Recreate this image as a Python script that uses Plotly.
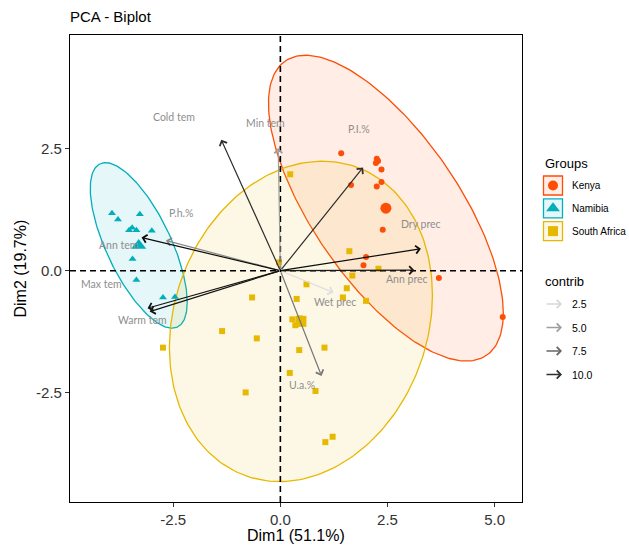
import numpy as np
import plotly.graph_objects as go

# ---------------- data ----------------
groups = ["Kenya", "Namibia", "South Africa"]
group_colors = ["#FC4E07", "#00AFBB", "#E7B800"]
group_symbols = ["circle", "triangle-up", "square"]

kenya_x = [1.42, 2.25, 2.23, 2.28, 2.36, 1.65, 2.36, 2.25, 2.39, 2.00, 1.94, 3.70, 5.19]
kenya_y = [2.41, 2.30, 2.21, 2.25, 2.08, 1.76, 1.82, 1.73, 0.84, 0.28, 0.11, -0.15, -0.95]

namibia_x = [-3.93, -3.79, -3.28, -3.53, -3.46, -3.36, -3.00, -3.45, -3.36, -2.74, -2.46]
namibia_y = [1.18, 1.05, 1.16, 0.83, 0.88, 0.83, 0.82, 0.24, -0.19, -0.55, -0.54]

safrica_x = [0.23, -0.03, 1.61, 2.29, 1.68, 0.61, 1.55, 1.46, 2.00, 0.38, -0.66, 0.28,
             0.35, 0.45, -1.36, -0.55, 0.44, 1.03, -2.74, 0.22, -0.81, 0.82, 1.05, 1.22]
safrica_y = [1.98, 0.17, 0.40, 0.04, -0.10, -0.28, -0.36, -0.55, -0.62, -0.58, -0.55, -1.00,
             -1.12, -0.98, -1.24, -1.39, -1.63, -1.58, -1.58, -2.10, -2.50, -2.47, -3.52, -3.41]

# ellipse shape matrices (per group): [[sxx, sxy], [sxy, syy]]
ellipse_sxx = [7.51, 1.28, 9.42]
ellipse_syy = [9.86, 2.89, 10.82]
ellipse_sxy = [-5.90, -1.32, 1.65]

var_names = ["Cold tem", "Min tem", "P.I.%", "P.h.%", "Ann tem", "Max tem",
             "Warm tem", "Dry prec", "Ann prec", "Wet prec", "U.a.%"]
var_x = [-1.38, -0.05, 1.93, -2.67, -3.24, -3.10, -3.05, 3.28, 3.13, 1.24, 0.96]
var_y = [2.69, 2.52, 2.12, 0.62, 0.68, -0.77, -0.84, 0.45, 0.01, -0.45, -2.16]
var_contrib = [10.0, 5.0, 10.0, 6.0, 11.5, 11.2, 11.2, 11.5, 11.0, 2.2, 6.8]
label_x = [-2.48, -0.35, 1.83, -2.33, -3.78, -4.18, -3.21, 3.28, 2.95, 1.27, 0.51]
label_y = [3.15, 3.04, 2.91, 1.18, 0.53, -0.27, -1.01, 0.95, -0.17, -0.65, -2.34]

contrib_legend = [2.5, 5.0, 7.5, 10.0]

title_text = "PCA - Biplot"
xlab = "Dim1 (51.1%)"
ylab = "Dim2 (19.7%)"

group_x = [kenya_x, namibia_x, safrica_x]
group_y = [kenya_y, namibia_y, safrica_y]

# ---------------- helpers ----------------
C_LO, C_HI = 2.0, 11.6


def contrib_color(c):
    t = min(max((c - C_LO) / (C_HI - C_LO), 0.0), 1.0)
    v = int(round(226 * (1 - t) + 10 * t))
    return f"rgb({v},{v},{v})"


def rgba(hexcol, a):
    h = hexcol.lstrip("#")
    r, g, b = int(h[0:2], 16), int(h[2:4], 16), int(h[4:6], 16)
    return f"rgba({r},{g},{b},{a})"


W, H = 629, 549
ML, MR, MT, MB = 70, 0, 35, 47
PANEL_R = 522
PANEL_H = H - MT - MB
plot_w = W - ML - MR
main_dom = (PANEL_R - ML) / plot_w

fig = go.Figure()

# ellipses
t = np.linspace(0, 2 * np.pi, 240)
for i, g in enumerate(groups):
    cx, cy = np.mean(group_x[i]), np.mean(group_y[i])
    M = np.array([[ellipse_sxx[i], ellipse_sxy[i]], [ellipse_sxy[i], ellipse_syy[i]]])
    L = np.linalg.cholesky(M)
    pts = L @ np.vstack([np.cos(t), np.sin(t)])
    fig.add_trace(go.Scatter(
        x=cx + pts[0], y=cy + pts[1], mode="lines", fill="toself",
        fillcolor=rgba(group_colors[i], 0.1),
        line=dict(color=group_colors[i], width=1.3),
        hoverinfo="skip", showlegend=False))

# points and centroids
for i, g in enumerate(groups):
    fig.add_trace(go.Scatter(
        x=group_x[i], y=group_y[i], mode="markers",
        marker=dict(symbol=group_symbols[i], color=group_colors[i],
                    size=7 if group_symbols[i] == "triangle-up" else 6,
                    line=dict(width=0)),
        name=g, showlegend=False))
    fig.add_trace(go.Scatter(
        x=[np.mean(group_x[i])], y=[np.mean(group_y[i])], mode="markers",
        marker=dict(symbol=group_symbols[i], color=group_colors[i],
                    size=13 if group_symbols[i] == "triangle-up" else 11,
                    line=dict(width=0)),
        showlegend=False, hoverinfo="skip"))

shapes = []
annotations = []

# reference dashed lines
shapes.append(dict(type="line", xref="x domain", yref="y", x0=0, x1=1, y0=0, y1=0,
                   line=dict(color="black", width=1.6, dash="6px,4px")))
shapes.append(dict(type="line", xref="x", yref="y domain", x0=0, x1=0, y0=0, y1=1,
                   line=dict(color="black", width=1.6, dash="6px,4px")))

# variable arrows (lighter first)
order = np.argsort(var_contrib)
for k in order:
    col = contrib_color(var_contrib[k])
    annotations.append(dict(
        x=var_x[k], y=var_y[k], ax=0, ay=0, xref="x", yref="y", axref="x", ayref="y",
        showarrow=True, arrowhead=4, arrowsize=1.3, arrowwidth=1.2, arrowcolor=col,
        text=""))
for k in range(len(var_names)):
    annotations.append(dict(
        x=label_x[k], y=label_y[k], xref="x", yref="y", text=var_names[k],
        showarrow=False, font=dict(family="Lato", size=10.5, color="#8e8e8e")))

# ---------------- legend (pixel overlay axes) ----------------
LEG_FONT = "Liberation Sans"
annotations.append(dict(x=543, y=163, xref="x2", yref="y2", text="Groups", showarrow=False,
                        xanchor="left", yanchor="middle",
                        font=dict(family=LEG_FONT, size=13, color="black")))
box_top = 176
for i, g in enumerate(groups):
    y0 = box_top + i * 22.8
    shapes.append(dict(type="rect", xref="x2", yref="y2", x0=543.5, x1=562.5, y0=y0, y1=y0 + 19,
                       line=dict(color=group_colors[i], width=1.3),
                       fillcolor=rgba(group_colors[i], 0.1)))
    fig.add_trace(go.Scatter(
        x=[553], y=[y0 + 9.5], xaxis="x2", yaxis="y2", mode="markers",
        marker=dict(symbol=group_symbols[i], color=group_colors[i],
                    size=12 if group_symbols[i] == "triangle-up" else 10, line=dict(width=0)),
        showlegend=False, hoverinfo="skip"))
    annotations.append(dict(x=570, y=y0 + 9.5, xref="x2", yref="y2", text=g, showarrow=False,
                            xanchor="left", yanchor="middle",
                            font=dict(family=LEG_FONT, size=10, color="black")))

annotations.append(dict(x=543, y=281, xref="x2", yref="y2", text="contrib", showarrow=False,
                        xanchor="left", yanchor="middle",
                        font=dict(family=LEG_FONT, size=13, color="black")))
for j, c in enumerate(contrib_legend):
    yy = 304 + j * 23.5
    annotations.append(dict(x=562, y=yy, ax=545, ay=yy, xref="x2", yref="y2",
                            axref="x2", ayref="y2", showarrow=True, arrowhead=4,
                            arrowsize=1.2, arrowwidth=1.3, arrowcolor=contrib_color(c), text=""))
    annotations.append(dict(x=570, y=yy, xref="x2", yref="y2", text=f"{c:.1f}", showarrow=False,
                            xanchor="left", yanchor="middle",
                            font=dict(family=LEG_FONT, size=10.5, color="black")))

# axis titles
annotations.append(dict(x=main_dom / 2, y=(MT + PANEL_H - 535) / PANEL_H, xref="paper", yref="paper",
                        text=xlab, showarrow=False, xanchor="center", yanchor="middle",
                        font=dict(family=LEG_FONT, size=16, color="black")))
annotations.append(dict(x=(20 - ML) / plot_w, y=0.5, xref="paper", yref="paper",
                        text=ylab, showarrow=False, textangle=-90, xanchor="center",
                        yanchor="middle", font=dict(family=LEG_FONT, size=16, color="black")))

fig.update_layout(
    width=W, height=H,
    margin=dict(l=ML, r=MR, t=MT, b=MB, pad=0),
    paper_bgcolor="white", plot_bgcolor="rgba(0,0,0,0)",
    showlegend=False,
    title=dict(text=title_text, x=ML / W, xref="container", xanchor="left",
               y=1 - 17 / H, yref="container", yanchor="middle",
               font=dict(family=LEG_FONT, size=15, color="black")),
    xaxis=dict(domain=[0, main_dom], range=[-4.91, 5.64], tickvals=[-2.5, 0, 2.5, 5.0],
               ticktext=["-2.5", "0.0", "2.5", "5.0"], showgrid=False, zeroline=False,
               showline=True, mirror=True, linecolor="black", linewidth=1.1,
               ticks="outside", ticklen=4, tickcolor="#333333",
               tickfont=dict(family=LEG_FONT, size=15, color="#333333"), automargin=False),
    yaxis=dict(domain=[0, 1], range=[-4.75, 4.84], tickvals=[-2.5, 0, 2.5],
               ticktext=["-2.5", "0.0", "2.5"], showgrid=False, zeroline=False,
               showline=True, mirror=True, linecolor="black", linewidth=1.1,
               ticks="outside", ticklen=4, tickcolor="#333333",
               tickfont=dict(family=LEG_FONT, size=15, color="#333333"), automargin=False),
    xaxis2=dict(domain=[0, 1], range=[ML, W - MR], visible=False, anchor="y2",
                fixedrange=True, showgrid=False, zeroline=False),
    yaxis2=dict(domain=[0, 1], range=[MT + PANEL_H, MT], visible=False, anchor="x2",
                fixedrange=True, showgrid=False, zeroline=False),
    shapes=shapes,
    annotations=annotations,
)

fig.write_html("out.html", config={"displayModeBar": False},
               post_script="document.body.style.margin='0';document.body.style.overflow='hidden';")
